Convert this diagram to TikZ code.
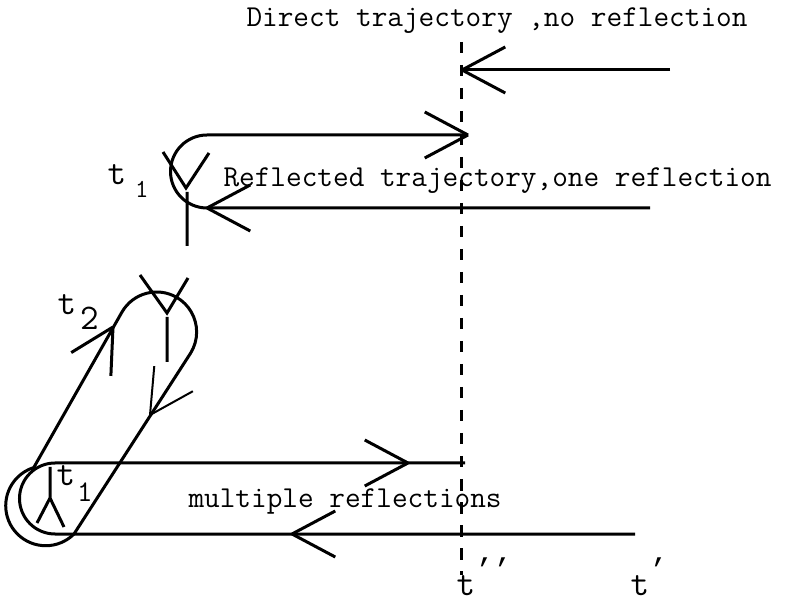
\documentclass[tikz,border=0pt]{standalone}
\usepackage{fontspec}
\newfontfamily\tickfont{Liberation Mono}
\usetikzlibrary{calc}

\newcommand{\openhead}[3][]{\draw[#1] (#2) -- ++(#3+152:49) (#2) -- ++(#3-152:49);}

\begin{document}
\begin{tikzpicture}[x=.5pt,y=.5pt,line width=1.5pt,
  lbl/.style={font=\ttfamily\fontsize{15.2}{18}\selectfont,inner sep=0pt,anchor=base west},
  tlbl/.style={lbl,font=\ttfamily\fontsize{18}{20}\selectfont}]
\useasboundingbox (0,0) rectangle (790,604);
\draw[dash pattern=on 5.75pt off 5.75pt] (461,562) -- (461,29);

\node[lbl] (direct) at (245,577) {Direct trajectory ,no reflection};
\draw (670,534) -- (462,534);
\openhead{462,534}{180}

\node[lbl] (onerefl) at (222,417) {Reflected trajectory,one reflection};
\draw (650,396) -- (207,396) arc[start angle=270,end angle=90,radius=36.5] -- (468,469);
\openhead{468,469}{0}
\openhead{207,396}{180}
\draw (163,452) -- (186,416) -- (209,451) (187,412) -- (187,358);
\node[tlbl] (tonea) at (106,419) {t\hspace{4.5pt}\raisebox{-6.5pt}{\fontsize{13}{14}\selectfont 1}};

\draw (33.5,136) -- (122,292) arc[start angle=150,end angle=-32,radius=40] -- (74,70)
  arc[start angle=-45,end angle=-252,radius=40];
\openhead{113,277}{59.5}
\openhead[line width=1pt]{150,189}{237}
\draw (140,329) -- (167,291) -- (188,326) (167,287) -- (167,242);
\node[tlbl] (ttwo) at (56,289) {t\hspace{2pt}\raisebox{-7.5pt}{\fontsize{18}{20}\selectfont 2}};

\node[lbl] (multi) at (187,97) {multiple reflections};
\draw (465,141) -- (55,141) arc[start angle=90,end angle=270,radius=35.5] -- (635,70);
\openhead{408,141}{0}
\openhead{292,70}{180}
\draw (50,137) -- (50,106) -- (37,81) (50,106) -- (64,77);
\node[tlbl] (toneb) at (55,119) {t\hspace{1pt}\raisebox{-8pt}{\fontsize{15}{16}\selectfont 1}};

\node[tlbl] (tdd) at (455,9) {t\raisebox{8pt}{\tickfont\fontsize{15}{16}\selectfont ’’}};
\node[tlbl] (td) at (629,9) {t\raisebox{8pt}{\tickfont\fontsize{15}{16}\selectfont ’}};
\end{tikzpicture}
\end{document}
